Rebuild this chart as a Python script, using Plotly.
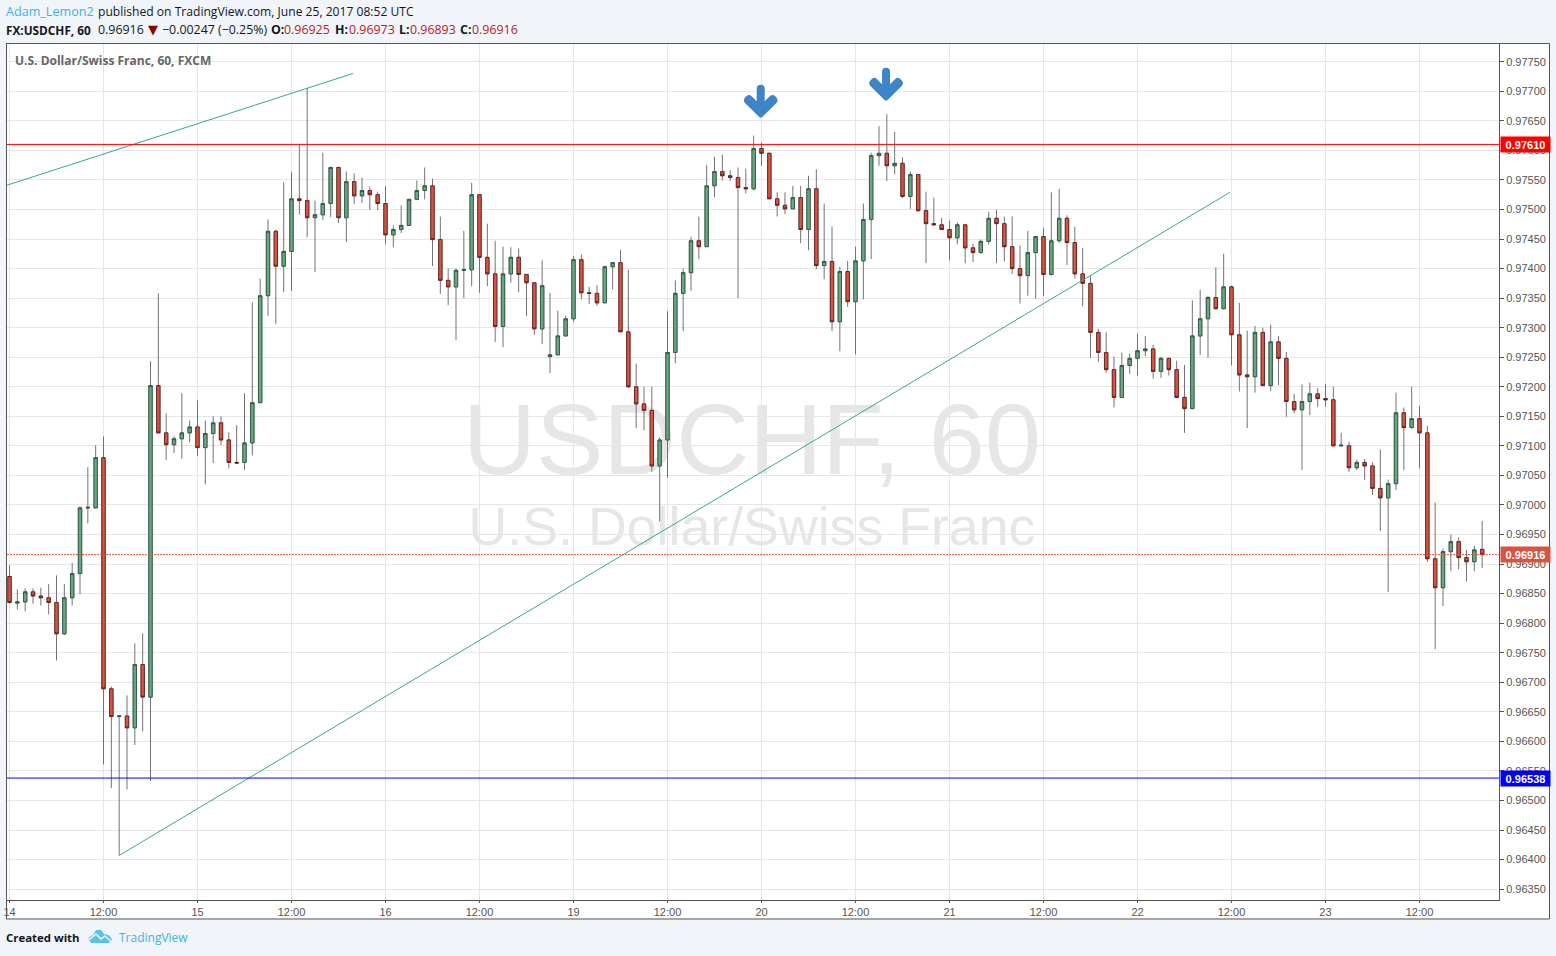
import numpy as np
import plotly.graph_objects as go

# USD/CHF 60 min candles, prices in 1e-5 units
opens = [96879,96834,96836,96853,96846,96843,96835,96782,96843,96884,
96995,96995,97080,96689,96642,96643,96623,96730,96675,97202,
97122,97102,97112,97122,97132,97097,97121,97139,97110,97072,
97072,97105,97173,97354,97463,97404,97429,97518,97515,97486,
97491,97510,97571,97486,97547,97523,97532,97525,97510,97457,
97466,97473,97517,97532,97540,97449,97380,97369,97397,97398,
97525,97419,97391,97302,97391,97419,97390,97376,97298,97251,
97254,97286,97315,97415,97359,97358,97342,97403,97410,97293,
97200,97171,97160,97066,97110,97258,97358,97393,97447,97437,
97540,97564,97557,97554,97537,97535,97603,97595,97518,97507,
97501,97520,97466,97535,97405,97412,97310,97395,97344,97413,
97483,97591,97595,97574,97578,97522,97559,97498,97476,97474,
97466,97452,97474,97435,97427,97446,97485,97476,97437,97400,
97388,97427,97454,97390,97447,97485,97444,97391,97375,97292,
97258,97229,97182,97236,97248,97261,97264,97226,97248,97229,
97182,97163,97286,97315,97351,97332,97369,97288,97220,97217,
97292,97202,97276,97248,97175,97161,97175,97188,97180,97178,
97100,97100,97063,97072,97066,97028,97012,97036,97156,97131,
97146,97122,96909,96860,96921,96938,96911,96904,96925]
highs = [96898,96857,96859,96859,96860,96866,96881,96866,96902,96998,
97064,97101,97116,96693,96644,96678,96766,96783,97243,97358,
97155,97116,97189,97143,97177,97143,97150,97150,97123,97135,
97189,97343,97383,97483,97466,97546,97563,97611,97706,97515,
97596,97572,97572,97564,97561,97554,97539,97530,97540,97473,
97507,97518,97549,97571,97552,97488,97400,97400,97464,97545,
97526,97476,97447,97437,97436,97434,97391,97377,97414,97359,
97329,97320,97421,97424,97369,97372,97405,97410,97432,97398,
97239,97200,97200,97115,97328,97380,97400,97454,97488,97575,
97589,97593,97566,97571,97569,97625,97613,97596,97529,97529,
97540,97540,97557,97568,97510,97471,97403,97413,97437,97510,
97596,97641,97661,97631,97588,97564,97560,97530,97520,97486,
97481,97478,97475,97442,97449,97496,97500,97488,97488,97439,
97464,97454,97469,97529,97535,97490,97471,97435,97387,97298,
97292,97251,97258,97256,97290,97286,97271,97251,97249,97244,
97237,97346,97364,97354,97402,97425,97371,97342,97295,97303,
97300,97305,97286,97259,97188,97204,97207,97198,97205,97200,
97122,97107,97077,97078,97072,97094,97043,97190,97165,97200,
97168,97134,97004,96926,96950,96945,96924,96931,96973]
lows = [96833,96823,96820,96833,96830,96815,96737,96780,96830,96849,
96969,96995,96561,96521,96407,96519,96594,96617,96533,97121,
97076,97088,97078,97106,97083,97035,97071,97101,97062,97069,
97059,97084,97173,97320,97306,97360,97362,97491,97453,97394,
97482,97487,97477,97445,97509,97511,97499,97499,97441,97436,
97460,97473,97517,97517,97404,97357,97338,97279,97350,97370,
97359,97370,97276,97267,97376,97360,97320,97288,97272,97223,
97254,97286,97310,97348,97340,97337,97342,97365,97293,97198,
97130,97126,97056,96972,97046,97240,97294,97362,97416,97437,
97521,97549,97548,97350,97527,97532,97574,97518,97488,97492,
97501,97443,97431,97399,97382,97294,97260,97335,97255,97348,
97416,97574,97548,97560,97519,97501,97496,97409,97474,97466,
97414,97441,97409,97411,97425,97441,97409,97412,97391,97341,
97354,97349,97354,97388,97444,97406,97383,97336,97249,97242,
97224,97165,97182,97222,97219,97252,97214,97215,97219,97182,
97122,97163,97254,97249,97332,97331,97236,97192,97130,97190,
97202,97193,97203,97149,97155,97059,97152,97166,97166,97100,
97099,97056,97059,97042,97017,96956,96853,97025,97059,97129,
97062,96904,96756,96829,96888,96891,96871,96888,96893]
closes = [96835,96836,96853,96846,96843,96835,96782,96843,96884,96995,
96996,97080,96689,96642,96643,96623,96730,96675,97202,97122,
97102,97112,97122,97132,97097,97121,97139,97110,97072,97071,
97105,97173,97354,97463,97404,97429,97518,97515,97486,97491,
97510,97571,97486,97547,97523,97532,97525,97510,97457,97466,
97473,97517,97532,97540,97449,97380,97369,97397,97398,97525,
97419,97391,97302,97391,97419,97390,97376,97298,97371,97254,
97286,97315,97415,97359,97358,97342,97403,97410,97293,97200,
97171,97160,97066,97110,97258,97358,97393,97447,97437,97540,
97564,97557,97554,97537,97535,97603,97595,97518,97507,97501,
97520,97466,97535,97405,97412,97310,97395,97344,97413,97483,
97591,97595,97574,97578,97522,97559,97498,97476,97474,97466,
97452,97474,97435,97427,97446,97485,97476,97437,97400,97388,
97427,97454,97390,97447,97485,97444,97391,97375,97292,97258,
97229,97182,97236,97248,97261,97264,97226,97248,97229,97182,
97163,97286,97315,97351,97332,97369,97288,97220,97217,97292,
97202,97276,97248,97175,97161,97175,97188,97180,97178,97100,
97101,97063,97072,97066,97028,97012,97036,97156,97131,97146,
97122,96909,96860,96921,96938,96911,96904,96924,96916]

# x axis: one slot per hour, weekend removed
time_ticks = [0,12,24,36,48,60,72,84,96,108,120,132,144,156,168,180]
time_labels = ["14","12:00","15","12:00","16","12:00","19","12:00","20","12:00","21","12:00","22","12:00","23","12:00"]

resistance = 0.97610
support = 0.96538
last_price = 0.96916

trend1_x = [-0.32, 43.85]
trend1_y = [0.97541, 0.97730]
trend2_x = [14, 155.8]
trend2_y = [0.96407, 0.97529]

arrow_x = [95.9, 111.9]
arrow_y = [0.97655, 0.97684]

GREY = "#555555"
BLUE = "#3bb3e4"
RED = "#b71c1c"
PAGE = "#f1f4f8"
W, H = 1556, 956
LEFT, RIGHT, TOP, BOTTOM = 7, 1499, 44, 900.5

def px(x):
    return (x - LEFT) / (RIGHT - LEFT)

def py(y):
    return (BOTTOM - y) / (BOTTOM - TOP)

bar_x = np.arange(len(opens))
o = np.array(opens) / 1e5
h = np.array(highs) / 1e5
l = np.array(lows) / 1e5
c = np.array(closes) / 1e5

fig = go.Figure()
# wicks first, then the bodies on top because TradingView wick colour differs from border
fig.add_trace(go.Candlestick(x=bar_x, open=o, high=h, low=l, close=c, whiskerwidth=0,
    increasing=dict(line=dict(color="#737375", width=1), fillcolor="rgba(0,0,0,0)"),
    decreasing=dict(line=dict(color="#737375", width=1), fillcolor="rgba(0,0,0,0)"),
    showlegend=False, hoverinfo="skip"))
fig.add_trace(go.Candlestick(x=bar_x, open=o, high=np.maximum(o, c), low=np.minimum(o, c), close=c, whiskerwidth=0,
    increasing=dict(line=dict(color="#225437", width=0.8), fillcolor="#6ba583"),
    decreasing=dict(line=dict(color="#5b1a13", width=0.8), fillcolor="#d75442"),
    showlegend=False, hoverinfo="skip"))
for tx, ty in [(trend1_x, trend1_y), (trend2_x, trend2_y)]:
    fig.add_trace(go.Scatter(x=tx, y=ty, mode="lines", line=dict(color="#35a88d", width=1),
        showlegend=False, hoverinfo="skip"))

ARROW = ("M -1.5 0.8 L -16 15 Q -18 18 -15.5 20.5 L -14 22 Q -11.5 24 -9 21.5 L -4 16.5 L -4 29 "
         "Q -4 33 0 33 Q 4 33 4 29 L 4 16.5 L 9 21.5 Q 11.5 24 14 22 L 15.5 20.5 Q 18 18 16 15 "
         "L 1.5 0.8 Q 0 -0.5 -1.5 0.8 Z")
CLOUD = "M 0 4 Q 2 7 5 8 L 8 13 L 13 13 L 16 9 Q 22 9 24 3 L 21 0 L 3 0 Z"
CLOUD_GAP = "M 0 2.5 L 8 9 L 13 4 L 17 7 L 24 0.5"

shapes = [
    # white frame around the chart and both axes
    dict(type="rect", xref="paper", yref="paper", x0=px(6.5), x1=px(1549.5), y0=py(919.5), y1=py(43.5),
         fillcolor="white", line=dict(color=GREY, width=1), layer="below"),
    dict(type="rect", xref="paper", yref="paper", x0=px(302), x1=px(1202), y0=py(379), y1=py(479),
         fillcolor="rgba(0,0,0,0)", line=dict(width=0), layer="below",
         label=dict(text="USDCHF, 60", textposition="middle center",
                    font=dict(family="Liberation Sans", size=101, color="#e6e6e6"))),
    dict(type="rect", xref="paper", yref="paper", x0=px(302), x1=px(1202), y0=py(489), y1=py(554),
         fillcolor="rgba(0,0,0,0)", line=dict(width=0), layer="below",
         label=dict(text="U.S. Dollar/Swiss Franc", textposition="middle center",
                    font=dict(family="Liberation Sans", size=53.7, color="#e6e6e6"))),
    dict(type="line", xref="paper", yref="y", x0=0, x1=1, y0=resistance, y1=resistance, line=dict(color="#ff0000", width=1)),
    dict(type="line", xref="paper", yref="y", x0=0, x1=1, y0=support, y1=support, line=dict(color="#0000ff", width=1)),
    dict(type="line", xref="paper", yref="y", x0=0, x1=1, y0=last_price, y1=last_price,
         line=dict(color="#d75442", width=1, dash="2px,1px")),
    # TradingView logo in the footer
    dict(type="path", xref="paper", yref="paper", xsizemode="pixel", ysizemode="pixel",
         xanchor=px(88), yanchor=py(943.5), path=CLOUD, fillcolor="#5cc0e8", line=dict(width=0)),
    dict(type="path", xref="paper", yref="paper", xsizemode="pixel", ysizemode="pixel",
         xanchor=px(88), yanchor=py(943.5), path=CLOUD_GAP, fillcolor="rgba(0,0,0,0)", line=dict(color=PAGE, width=1.5)),
]
for ax, ay in zip(arrow_x, arrow_y):
    shapes.append(dict(type="path", xref="x", yref="y", xsizemode="pixel", ysizemode="pixel",
        xanchor=ax, yanchor=ay, path=ARROW, fillcolor="#3d85c6", line=dict(width=0)))

def text(x, y, s, size, color="#131722", family="Open Sans"):
    return dict(xref="paper", yref="paper", x=px(x), y=py(y), text=s, showarrow=False, xanchor="left",
                yanchor="middle", align="left", borderpad=0, font=dict(family=family, size=size, color=color))

def price_tag(price, color):
    return dict(xref="paper", yref="y", x=px(1500), y=price, text="<b>%.5f</b>" % price, showarrow=False,
                xanchor="left", yanchor="middle", width=49, height=15, borderpad=0, bgcolor=color, align="center",
                font=dict(family="Liberation Sans", size=11, color="white"))

annotations = [
    text(4.5, 11.5, "Adam_Lemon2", 12.6, BLUE),
    text(96.5, 11.5, "published on TradingView.com, June 25, 2017 08:52 UTC", 12.1),
    text(4.5, 29.5, "<b>FX:USDCHF, 60</b>", 11.8),
    text(96.5, 29.5, "0.96916", 12.4),
    text(146.5, 29.5, "▼", 13, "#8b0000", "DejaVu Sans"),
    text(160.5, 29.5, "−0.00247", 12.4),
    text(216.5, 29.5, "(−0.25%)", 12.4),
    text(269.5, 29.5, "<b>O:</b>", 12.4),
    text(282.5, 29.5, "0.96925", 12.4, RED),
    text(333.5, 29.5, "<b>H:</b>", 12.4),
    text(347.5, 29.5, "0.96973", 12.4, RED),
    text(398.5, 29.5, "<b>L:</b>", 12.4),
    text(408.5, 29.5, "0.96893", 12.4, RED),
    text(458.5, 29.5, "<b>C:</b>", 12.4),
    text(470.5, 29.5, "0.96916", 12.4, RED),
    text(13.5, 60.5, "<b>U.S. Dollar/Swiss Franc, 60, FXCM</b>", 12, "#666666"),
    text(4.5, 938, "<b>Created with</b>", 11.4),
    text(117.5, 938, "TradingView", 12, BLUE),
    price_tag(resistance, "#ff0000"),
    price_tag(support, "#0000ff"),
    price_tag(last_price, "#d75442"),
]

fig.update_layout(
    width=W, height=H,
    margin=dict(l=LEFT, r=W - RIGHT, t=TOP, b=H - BOTTOM, autoexpand=False),
    paper_bgcolor=PAGE, plot_bgcolor="white",
    boxgap=0.38, dragmode=False, showlegend=False,
    shapes=shapes, annotations=annotations,
    xaxis=dict(range=[-0.32, 190.15], rangeslider=dict(visible=False), tickmode="array",
               tickvals=time_ticks, ticktext=time_labels, ticks="outside", ticklen=2, tickcolor=GREY,
               tickfont=dict(family="Liberation Sans", size=11, color=GREY), gridcolor="#e6e6e6", gridwidth=1,
               showline=True, linecolor=GREY, linewidth=1, mirror=True, zeroline=False),
    yaxis=dict(range=[0.963317, 0.977799], side="right", dtick=0.0005, tick0=0.9635, tickformat=".5f",
               ticks="outside", ticklen=4, tickcolor=GREY,
               tickfont=dict(family="Liberation Sans", size=11, color=GREY), gridcolor="#e6e6e6", gridwidth=1,
               showline=True, linecolor=GREY, linewidth=1, mirror=True, zeroline=False),
)

# the page body has a default margin that would push the chart off by 8px
fig.write_html("out.html", config=dict(displayModeBar=False), post_script="document.body.style.margin='0';")
